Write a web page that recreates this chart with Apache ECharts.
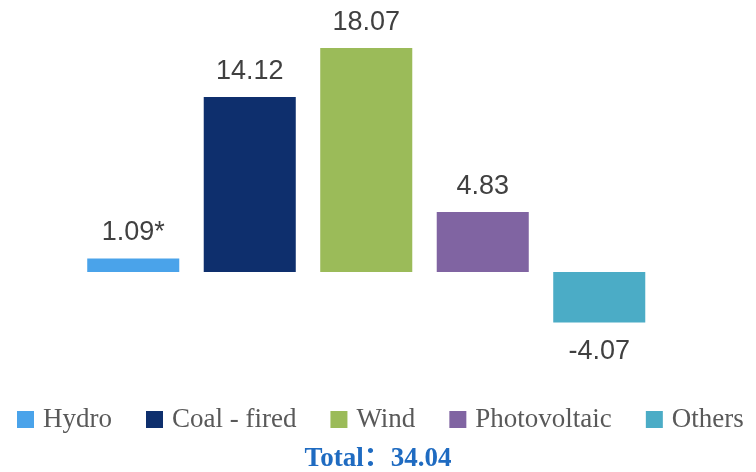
<!DOCTYPE html>
<html>
<head>
<meta charset="utf-8">
<script src="https://cdn.jsdelivr.net/npm/echarts@6/dist/echarts.min.js"></script>
<style>
  html, body { margin: 0; padding: 0; background: #ffffff; }
  #chart { width: 756px; height: 472px; }
</style>
</head>
<body>
<div id="chart"></div>
<script>
// Newly added capacity by source
const categories = ['Hydro', 'Coal - fired', 'Wind', 'Photovoltaic', 'Others'];
const values = [1.09, 14.12, 18.07, 4.83, -4.07];
const valueLabels = ['1.09*', '14.12', '18.07', '4.83', '-4.07'];
const colors = ['#4AA3EA', '#0E2F6D', '#9BBB59', '#8064A2', '#4BACC6'];
const totalText = 'Total：34.04';

const chart = echarts.init(document.getElementById('chart'));

// One series per category, stacked so each bar sits centred in its own slot
const series = categories.map((name, i) => ({
  name: name,
  type: 'bar',
  stack: 'all',
  barCategoryGap: '21%',
  itemStyle: { color: colors[i] },
  label: {
    show: true,
    position: values[i] >= 0 ? 'top' : 'bottom',
    distance: values[i] >= 0 ? 12 : 16,
    formatter: () => valueLabels[i],
    fontFamily: 'Liberation Sans, Arial, sans-serif',
    fontSize: 27,
    color: '#404040'
  },
  data: categories.map((_, j) => (j === i ? values[i] : '-'))
}));

chart.setOption({
  animation: false,
  grid: { left: 75, width: 582.5, top: 24, height: 322.4 },
  xAxis: {
    type: 'category',
    data: categories,
    show: false
  },
  yAxis: {
    type: 'value',
    min: -6,
    max: 20,
    show: false
  },
  legend: {
    data: categories,
    left: 17,
    top: 406,
    padding: 0,
    itemWidth: 17,
    itemHeight: 17,
    itemGap: 34,
    icon: 'rect',
    textStyle: {
      fontFamily: 'Liberation Serif, Times New Roman, serif',
      fontSize: 27,
      color: '#595959',
      padding: [0, 0, 0, 4]
    }
  },
  title: {
    text: totalText,
    left: 'center',
    top: 446,
    padding: 0,
    textStyle: {
      fontFamily: 'Liberation Serif, Noto Sans CJK SC, serif',
      fontWeight: 'bold',
      fontSize: 27,
      color: '#1F6BC1'
    }
  },
  series: series
});
</script>
</body>
</html>
